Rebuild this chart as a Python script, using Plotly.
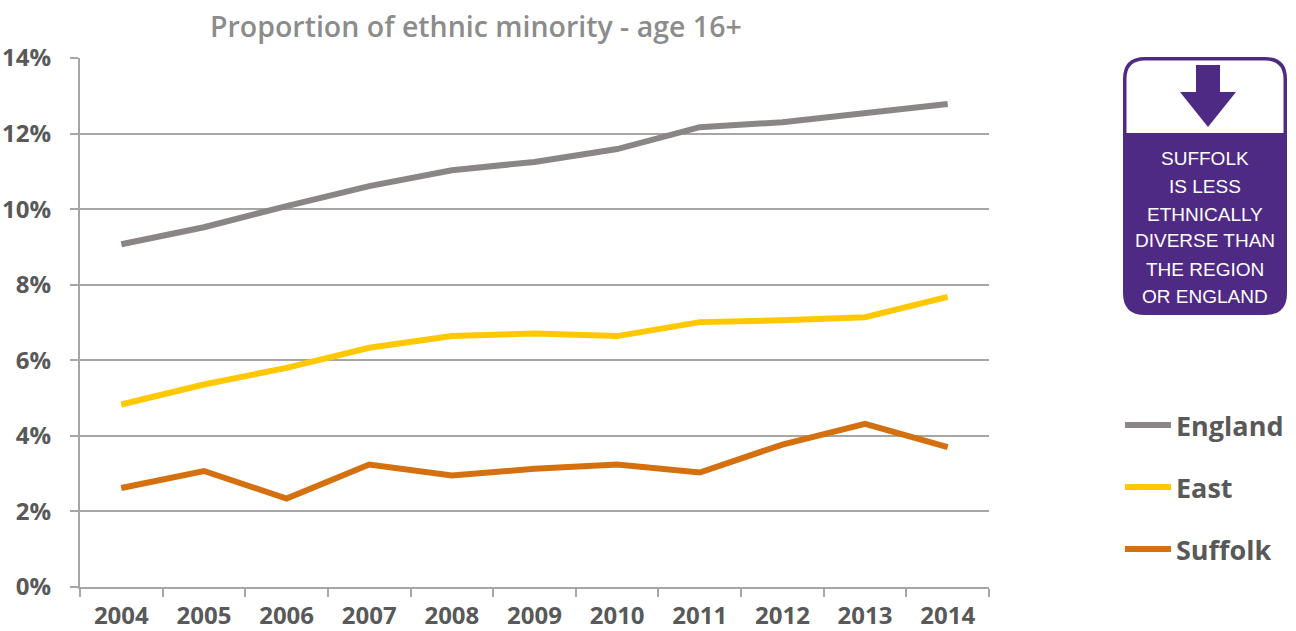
import plotly.graph_objects as go

# ---- data -------------------------------------------------------------
years = ["2004", "2005", "2006", "2007", "2008", "2009",
         "2010", "2011", "2012", "2013", "2014"]
england = [9.07, 9.52, 10.08, 10.61, 11.03, 11.25, 11.59, 12.17, 12.30, 12.54, 12.78]
east = [4.83, 5.36, 5.80, 6.33, 6.64, 6.71, 6.64, 7.01, 7.06, 7.14, 7.68]
suffolk = [2.62, 3.07, 2.34, 3.24, 2.95, 3.13, 3.24, 3.03, 3.77, 4.32, 3.70]

series_names = ["England", "East", "Suffolk"]
series_values = [england, east, suffolk]
series_colors = ["#8a8685", "#ffc800", "#d4700f"]

y_ticks = [0, 2, 4, 6, 8, 10, 12, 14]
title_text = "Proportion of ethnic minority - age 16+"
note_lines = ["SUFFOLK", "IS LESS", "ETHNICALLY", "DIVERSE THAN", "THE REGION", "OR ENGLAND"]

# ---- layout geometry (pixels) ------------------------------------------
W, H = 1296, 631
ML, MR, MT, MB = 80, 307, 58, 44
PW, PH = W - ML - MR, H - MT - MB

def px(x):
    return (x - ML) / PW

def py(y):
    return (H - MB - y) / PH

TEXT = "#595959"
GRID = "#a6a6a6"
PURPLE = "#4e2a84"

fig = go.Figure()
for name, vals, col in zip(series_names, series_values, series_colors):
    fig.add_trace(go.Scatter(
        x=years, y=vals, name=name, mode="lines",
        line=dict(color=col, width=6),
        showlegend=False,
    ))

shapes = []
annotations = []

# legend drawn at the right
legend_y = [425, 487, 549]
for name, col, ly in zip(series_names, series_colors, legend_y):
    shapes.append(dict(type="line", xref="paper", yref="paper",
                       x0=px(1125), x1=px(1171), y0=py(ly), y1=py(ly),
                       line=dict(color=col, width=6)))
    annotations.append(dict(text=f"<b>{name}</b>", xref="paper", yref="paper",
                            x=px(1174), y=py(ly), xanchor="left", yanchor="middle",
                            showarrow=False,
                            font=dict(family="Open Sans", size=27, color=TEXT)))

# rounded note box
x1, x2, y1, y2, r = 1123, 1287, 57, 315, 22

def rounded_path(xa, xb, ya, yb, rad, round_bottom=True):
    pts = [f"M{px(xa + rad)},{py(ya)}",
           f"L{px(xb - rad)},{py(ya)}",
           f"Q{px(xb)},{py(ya)} {px(xb)},{py(ya + rad)}"]
    if round_bottom:
        pts += [f"L{px(xb)},{py(yb - rad)}",
                f"Q{px(xb)},{py(yb)} {px(xb - rad)},{py(yb)}",
                f"L{px(xa + rad)},{py(yb)}",
                f"Q{px(xa)},{py(yb)} {px(xa)},{py(yb - rad)}"]
    else:
        pts += [f"L{px(xb)},{py(yb)}", f"L{px(xa)},{py(yb)}"]
    pts += [f"L{px(xa)},{py(ya + rad)}",
            f"Q{px(xa)},{py(ya)} {px(xa + rad)},{py(ya)}", "Z"]
    return " ".join(pts)

shapes.append(dict(type="path", xref="paper", yref="paper",
                   path=rounded_path(x1, x2, y1, y2, r),
                   fillcolor=PURPLE, line=dict(width=0)))
b = 3.5
shapes.append(dict(type="path", xref="paper", yref="paper",
                   path=rounded_path(x1 + b, x2 - b, y1 + b, 133, r - b, round_bottom=False),
                   fillcolor="white", line=dict(width=0)))
# down arrow
arrow = [(1196, 65), (1220, 65), (1220, 92), (1236, 92), (1208, 127),
         (1180, 92), (1196, 92)]
arrow_path = "M" + " L".join(f"{px(a)},{py(c)}" for a, c in arrow) + " Z"
shapes.append(dict(type="path", xref="paper", yref="paper", path=arrow_path,
                   fillcolor=PURPLE, line=dict(width=0)))

note_y = [158, 186, 214, 241, 269, 296]
for line_text, ny in zip(note_lines, note_y):
    annotations.append(dict(text=line_text, xref="paper", yref="paper",
                            x=px(1205), y=py(ny), xanchor="center", yanchor="middle",
                            showarrow=False,
                            font=dict(family="Liberation Sans", size=19, color="white")))

# chart title
annotations.append(dict(text=title_text, xref="paper", yref="paper",
                        x=px(476), y=py(26), xanchor="center", yanchor="middle",
                        showarrow=False,
                        font=dict(family="Open Sans", size=28.5, color="#8c8c8c", weight=600)))

fig.update_layout(
    width=W, height=H,
    margin=dict(l=ML, r=MR, t=MT, b=MB, autoexpand=False),
    paper_bgcolor="white", plot_bgcolor="white",
    shapes=shapes, annotations=annotations,
    showlegend=False,
    xaxis=dict(
        type="category", range=[-0.5, len(years) - 0.5],
        showgrid=False, showline=True, linecolor=GRID, linewidth=2,
        ticks="outside", tickson="boundaries", ticklen=8, tickwidth=2, tickcolor=GRID,
        tickfont=dict(family="Open Sans", size=24, color=TEXT, weight="bold"),
        ticklabelstandoff=6, automargin=False,
        fixedrange=True,
    ),
    yaxis=dict(
        range=[0, 14], tickvals=y_ticks, ticktext=[f"{v}%" for v in y_ticks],
        showgrid=True, gridcolor=GRID, gridwidth=2,
        showline=True, linecolor=GRID, linewidth=2,
        ticks="outside", ticklen=8, tickwidth=2, tickcolor=GRID,
        tickfont=dict(family="Open Sans", size=24, color=TEXT, weight="bold"),
        ticklabelstandoff=14, zeroline=False, automargin=False,
        fixedrange=True,
    ),
)

fig.write_html("out.html")
